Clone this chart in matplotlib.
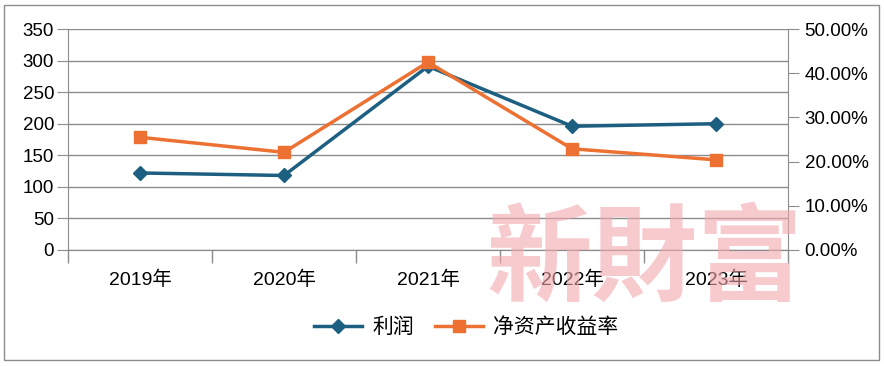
import matplotlib.pyplot as plt
from matplotlib.ticker import MultipleLocator, FuncFormatter
import numpy as np

plt.rcParams['font.family'] = ['Liberation Sans', 'Noto Sans CJK SC', 'DejaVu Sans']

# dati
anni = ['2019年', '2020年', '2021年', '2022年', '2023年']
profitto = [122, 118, 291, 196, 200]
roe = [25.5, 22.1, 42.5, 22.9, 20.4]

blu = '#1d5f80'
arancio = '#ed7132'
grigio = '#8c8c8c'

fig = plt.figure(figsize=(8.84, 3.66), dpi=100)
ax = fig.add_axes([68 / 884, 1 - 250 / 366, 720 / 884, 221 / 366])
ax2 = ax.twinx()

x = np.arange(len(anni))
l1, = ax.plot(x, profitto, color=blu, lw=2.5, marker='D', ms=7, label='利润', zorder=3)
l2, = ax2.plot(x, roe, color=arancio, lw=2.5, marker='s', ms=9, label='净资产收益率', zorder=3)

ax.set_xlim(-0.5, 4.5)
ax.set_ylim(0, 350)
ax.yaxis.set_major_locator(MultipleLocator(50))
ax2.set_ylim(0, 50)
ax2.yaxis.set_major_locator(MultipleLocator(10))
ax2.yaxis.set_major_formatter(FuncFormatter(lambda v, p: f'{v:.2f}%'))

ax.grid(axis='y', color=grigio, lw=1)
ax.set_axisbelow(True)
ax.set_xticks(x)
ax.set_xticklabels(anni)
ax.set_xticks(np.arange(-0.5, 5, 1), minor=True)
ax.tick_params(axis='x', which='major', length=0, pad=15, labelsize=14)
ax.tick_params(axis='x', which='minor', length=9, color=grigio, width=1)
ax.tick_params(axis='y', length=8, color=grigio, labelsize=13.5, pad=2)
ax2.tick_params(axis='y', length=8, color=grigio, labelsize=13.5, pad=4)

for a in (ax, ax2):
    a.spines['top'].set_visible(False)
    for s in ('left', 'right', 'bottom'):
        a.spines[s].set_color(grigio)
ax2.spines['left'].set_visible(False)
ax.spines['right'].set_visible(False)

# filigrana
fig.text(645 / 884, 1 - 262 / 366, '新財富', fontsize=76, color='#f2a7ae', alpha=0.6,
         ha='center', va='center', fontweight='bold', family=['Noto Sans CJK TC'], zorder=10)

fig.legend(handles=[l1, l2], loc='center', bbox_to_anchor=(466 / 884, 1 - 327 / 366),
           ncol=2, frameon=False, fontsize=15, handlelength=2.3, columnspacing=1.0,
           handletextpad=0.5)

# bordo
fig.patches.append(plt.Rectangle((4 / 884, 1 - 360 / 366), 875 / 884, 355 / 366,
                                 transform=fig.transFigure, fill=False, edgecolor=grigio, lw=1))

fig.savefig('out.png', dpi=100)
